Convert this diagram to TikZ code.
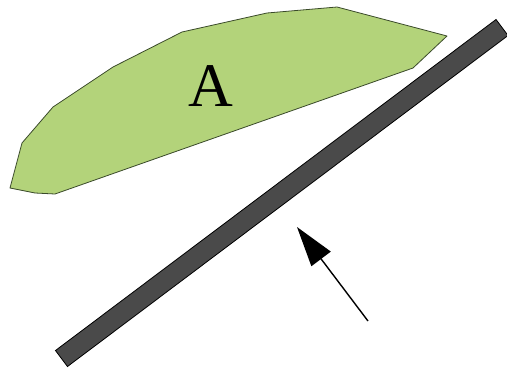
\documentclass[tikz,border=0pt]{standalone}
\usepackage{fontspec}
\setmainfont{Liberation Serif}
\usetikzlibrary{arrows.meta}
\definecolor{leaf}{HTML}{B3D37A}
\definecolor{leafline}{HTML}{3A4A2A}
\definecolor{barfill}{HTML}{4A4A4A}
\tikzset{
  region/.style={fill=leaf, draw=leafline, line width=0.8pt, line join=round},
  plate/.style={fill=barfill, draw=black, line width=0.8pt},
  pointer/.style={draw=black, line width=1.4pt, -{Triangle[length=40pt,width=24pt]}}
}
\begin{document}
\begin{tikzpicture}[x=1pt,y=-1pt]
\useasboundingbox (0,0) rectangle (507,370);
\path[region] (337,7) -- (447,36) -- (413,68) -- (55,194) -- (35,193) -- (10,188)
  -- (22,143) -- (53,107) -- (113,67) -- (182,32) -- (267,13) -- cycle;
\node[font=\fontsize{62}{62}\selectfont] (labelA) at (211,86) {A};
\path[plate] (55.5,350.5) -- (67.5,366.5) -- (508,35.5) -- (496,19.5) -- cycle;
\coordinate (tail) at (368,321);
\coordinate (tip) at (297,227);
\draw[pointer] (tail) -- (tip);
\end{tikzpicture}
\end{document}
